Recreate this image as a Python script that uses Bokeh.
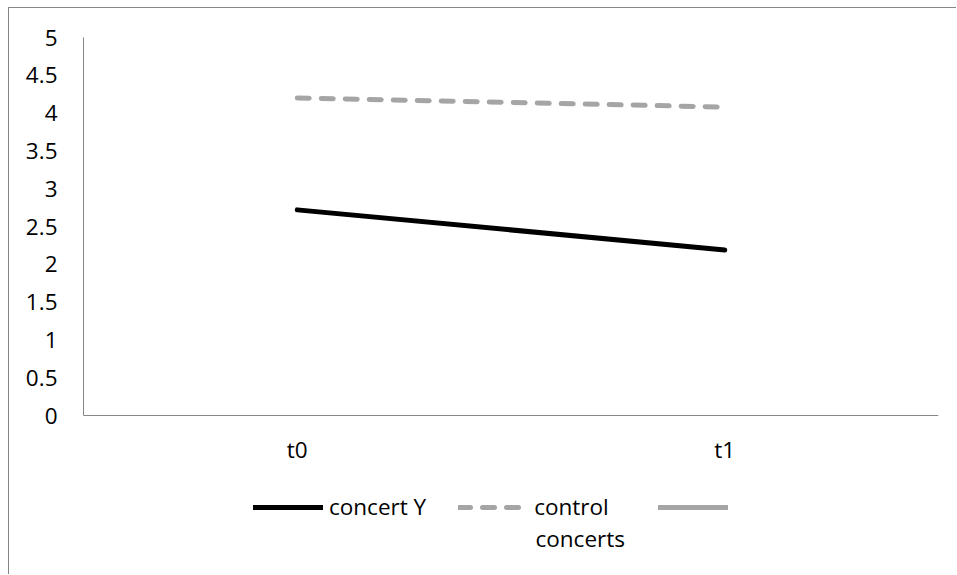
from bokeh.plotting import figure
from bokeh.models import FactorRange, Range1d, Legend, LegendItem, FixedTicker, NumeralTickFormatter, Label, Span
from bokeh.core.properties import value
from bokeh.embed import file_html
from bokeh.resources import INLINE

categories = ["t0", "t1"]
concert_y = [2.72, 2.19]
control_concerts = [4.20, 4.08]
series3 = [float("nan"), float("nan")]
y_ticks = [0, 0.5, 1, 1.5, 2, 2.5, 3, 3.5, 4, 4.5, 5]
labels = ["concert Y", "control\u00a0\u00a0\u00a0", " "]
label_second_line = "concerts"

FONT = "Open Sans"
FSIZE = "22.5px"
AXIS_COLOR = "#868686"
GRAY = "#A5A5A5"

# layout in pixels: frame extends to bottom so legend is inside it
PLOT_H = 378      # pixel height of value range 0..5
BELOW = 160       # pixels below value 0 within the frame
Y_MAX = 5
Y_MIN = -Y_MAX * BELOW / PLOT_H

p = figure(width=948, height=567,
           x_range=FactorRange(*categories, range_padding=0),
           y_range=Range1d(Y_MIN, Y_MAX),
           output_backend="svg", toolbar_location=None,
           min_border_left=74, min_border_top=29, min_border_right=19, min_border_bottom=0)
p.styles = {"margin-left": "8px", "margin-top": "7px",
            "border-left": f"1px solid {AXIS_COLOR}", "border-top": f"1px solid {AXIS_COLOR}"}

r1 = p.line(categories, concert_y, line_color="black", line_width=5, line_cap="round")
r2 = p.line(categories, control_concerts, line_color=GRAY, line_width=5, line_dash="12 12", line_cap="round")
r3 = p.line(categories, series3, line_color=GRAY, line_width=5, line_cap="round")

p.xgrid.grid_line_color = None
p.ygrid.grid_line_color = None
p.outline_line_color = None
p.xaxis.visible = False

# x axis line at value 0
p.add_layout(Span(location=0, dimension="width", line_color=AXIS_COLOR, line_width=1))
# category labels under the axis line
p.text(x=categories, y=[0] * len(categories), text=categories, y_offset=34,
       text_align="center", text_baseline="middle", text_font=value(FONT),
       text_font_size=FSIZE, text_color="black")

yax = p.yaxis[0]
yax.bounds = (0, Y_MAX)
yax.axis_line_color = AXIS_COLOR
yax.axis_line_width = 1
yax.major_tick_line_color = None
yax.minor_tick_line_color = None
yax.major_tick_out = 0
yax.major_tick_in = 0
yax.major_label_text_font = FONT
yax.major_label_text_font_size = FSIZE
yax.major_label_text_color = "black"
yax.ticker = FixedTicker(ticks=y_ticks)
yax.formatter = NumeralTickFormatter(format="0.[0]")
yax.major_label_standoff = 26

legend = Legend(items=[LegendItem(label=labels[0], renderers=[r1]),
                       LegendItem(label=labels[1], renderers=[r2]),
                       LegendItem(label=labels[2], renderers=[r3])],
                orientation="horizontal", location=(170, 53),
                label_text_font=FONT, label_text_font_size=FSIZE, label_text_color="black",
                glyph_width=70, glyph_height=20, label_standoff=6, spacing=32,
                border_line_color=None, background_fill_alpha=0,
                padding=0, margin=0)
p.add_layout(legend, "center")

p.add_layout(Label(x=452, y=37, x_units="screen", y_units="screen",
                   text=label_second_line, text_font=FONT, text_font_size=FSIZE,
                   text_baseline="middle", text_color="black"))

open("out.html", "w").write(file_html(p, INLINE))
